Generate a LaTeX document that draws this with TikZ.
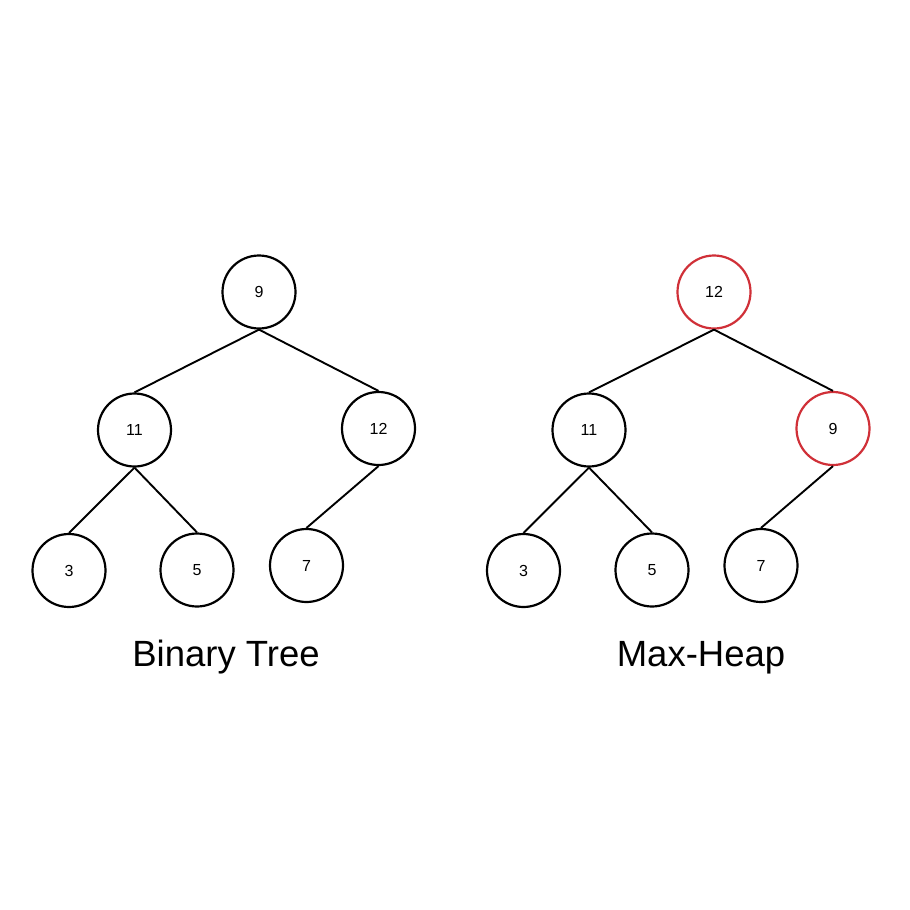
\documentclass[tikz,border=0pt]{standalone}
\usepackage{fontspec}
\setmainfont{Liberation Sans}
\usetikzlibrary{positioning}
\definecolor{heapred}{RGB}{208,48,56}

\begin{document}
\begin{tikzpicture}[x=1pt,y=-1pt,node distance=138pt,line width=1.9pt,
        vertex/.style={circle,draw,line width=2.2pt,minimum size=73pt,inner sep=0pt,font=\fontsize{16}{19}\selectfont},
        swapped/.style={vertex,draw=heapred},
        title/.style={anchor=base,font=\fontsize{36.5}{44}\selectfont}]
        \useasboundingbox (0,0) rectangle (910,910);
        \fill[white] (0,0) rectangle (910,910);

        % binary tree
        \node[vertex] (b9) at (259,292) {9};
        \node[vertex](b11)[below of=b9, xshift=-124.5pt]{11};
        \node[vertex](b12)[below of=b9, xshift=119.5pt, yshift=1.5pt]{12};
        \node[vertex](b3)[below of=b11, xshift=-65.5pt, yshift=-2.5pt]{3};
        \node[vertex](b5)[below of=b11, xshift=62.5pt, yshift=-2pt]{5};
        \node[vertex](b7)[below of=b12, xshift=-72pt, yshift=1pt]{7};
        \node[title] (btitle) at (226,666.7) {Binary Tree};

        % max-heap
        \node[swapped] (h12) at (714,292) {12};
        \node[vertex](h11)[below of=h12, xshift=-125pt]{11};
        \node[swapped](h9)[below of=h12, xshift=119pt, yshift=1.5pt]{9};
        \node[vertex](h3)[below of=h11, xshift=-65.5pt, yshift=-2.5pt]{3};
        \node[vertex](h5)[below of=h11, xshift=63pt, yshift=-2pt]{5};
        \node[vertex](h7)[below of=h9, xshift=-72pt, yshift=1pt]{7};
        \node[title] (htitle) at (701,666.7) {Max-Heap};

        \path[]
        (b9.south) edge (b11.north)
        (b9.south) edge (b12.north)
        (b11.south) edge (b3.north)
        (b11.south) edge (b5.north)
        (b12.south) edge (b7.north)
        (h12.south) edge (h11.north)
        (h12.south) edge (h9.north)
        (h11.south) edge (h3.north)
        (h11.south) edge (h5.north)
        (h9.south) edge (h7.north);
    \end{tikzpicture}
\end{document}
